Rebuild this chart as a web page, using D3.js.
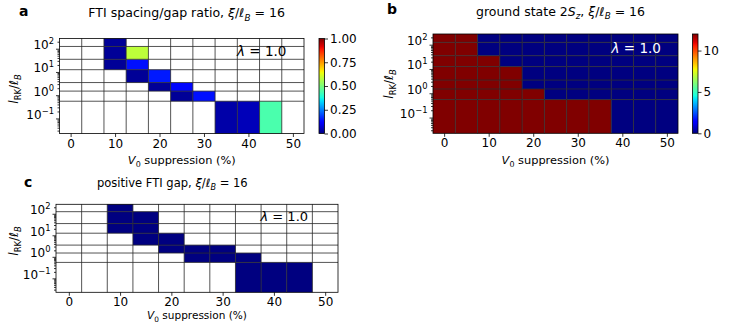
<!DOCTYPE html>
<html>
<head>
<meta charset="utf-8">
<script src="https://cdn.jsdelivr.net/npm/d3@7"></script>
<style>
body { margin: 0; background: #fff; }
svg { font-family: "DejaVu Sans", sans-serif; }
</style>
</head>
<body>
<div id="chart-area"></div>
<script>

// Grid centres (x: V0 suppression in %, y: l_RK / l_B)
var v0Values = [0, 5, 10, 15, 20, 25, 30, 35, 40, 45, 50];
var lrkValues = [0.1, 1, 2, 5, 20, 50, 200];

// Tick labels
var xTicks = [0, 10, 20, 30, 40, 50];
var yTicks = [0.1, 1, 10, 100];
var ratioTicks = [0, 0.25, 0.5, 0.75, 1];
var spinTicks = [0, 5, 10];

var _ = null;

// rows follow lrkValues (bottom row first), columns follow v0Values
var ratio = [
	[_, _, _, _, _, _, _, 0.035, 0.05, 0.44, _],
	[_, _, _, _, _, 0.02, 0.14, _, _, _, _],
	[_, _, _, _, 0.02, 0.13, _, _, _, _, _],
	[_, _, _, 0.02, 0.15, _, _, _, _, _, _],
	[_, _, 0.02, 0.14, _, _, _, _, _, _, _],
	[_, _, 0.02, 0.58, _, _, _, _, _, _, _],
	[_, _, 0.02, _, _, _, _, _, _, _, _]
];

var spin = [
	[12, 12, 12, 12, 12, 12, 12, 12, 0, 0, 0],
	[12, 12, 12, 12, 12, 0, 0, 0, 0, 0, 0],
	[12, 12, 12, 12, 0, 0, 0, 0, 0, 0, 0],
	[12, 12, 12, 12, 0, 0, 0, 0, 0, 0, 0],
	[12, 12, 12, 0, 0, 0, 0, 0, 0, 0, 0],
	[12, 12, 0, 0, 0, 0, 0, 0, 0, 0, 0],
	[12, 12, 0, 0, 0, 0, 0, 0, 0, 0, 0]
];

var gapPositive = [
	[_, _, _, _, _, _, _, 1, 1, 1, _],
	[_, _, _, _, _, 1, 1, 1, _, _, _],
	[_, _, _, _, 1, 1, 1, _, _, _, _],
	[_, _, _, 1, 1, _, _, _, _, _, _],
	[_, _, 1, 1, _, _, _, _, _, _, _],
	[_, _, 1, 1, _, _, _, _, _, _, _],
	[_, _, 1, _, _, _, _, _, _, _, _]
];


// matplotlib "jet"
var jetR = d3.scaleLinear().domain([0, 0.35, 0.66, 0.89, 1]).range([0, 0, 1, 1, 0.5]).clamp(true);
var jetG = d3.scaleLinear().domain([0, 0.125, 0.375, 0.64, 0.91, 1]).range([0, 0, 1, 1, 0, 0]).clamp(true);
var jetB = d3.scaleLinear().domain([0, 0.11, 0.34, 0.65, 1]).range([0.5, 1, 1, 0, 0]).clamp(true);
function jet(t) {
	return d3.rgb(255 * jetR(t), 255 * jetG(t), 255 * jetB(t)).formatHex();
}

// cell edges like pcolormesh (midpoints between centres)
function edges(c) {
	var e = [c[0] - (c[1] - c[0]) / 2];
	for (var i = 0; i < c.length - 1; i++) e.push((c[i] + c[i + 1]) / 2);
	e.push(c[c.length - 1] + (c[c.length - 1] - c[c.length - 2]) / 2);
	return e;
}
var xEdges = edges(v0Values);
var yEdges = edges(lrkValues);
var yDomain = [0.0225, yEdges[yEdges.length - 1]];

var svg = d3.select("#chart-area").append("svg")
	.attr("width", 747)
	.attr("height", 331);

// text with italic / sub / superscript parts
function mathText(text, parts, size) {
	var shift = 0;
	text.selectAll("tspan").remove();
	text.attr("font-size", size);
	parts.forEach(function(p) {
		var target = p.sub ? size * 0.28 : (p.sup ? -size * 0.42 : 0);
		var ts = text.append("tspan").text(p.t)
			.attr("dy", target - shift);
		if (p.i) ts.attr("font-style", "italic");
		if (p.sub || p.sup) ts.attr("font-size", size * 0.7);
		shift = target;
	});
}

// same, but scaled so the text spans a given width
function fitText(text, parts, width) {
	mathText(text, parts, 12);
	var len = text.node().getComputedTextLength();
	mathText(text, parts, 12 * width / len);
}

function powerLabel(v) {
	var k = Math.round(Math.log10(v));
	return [{t: "10"}, {t: (k < 0 ? "\u2212" + (-k) : "" + k), sup: true}];
}

var xLabelParts = [{t: "V", i: true}, {t: "0", sub: true}, {t: " suppression (%)"}];
var yLabelParts = [{t: "l", i: true}, {t: "RK", sub: true}, {t: "/"}, {t: "\u2113", i: true}, {t: "B", i: true, sub: true}];
var xiParts = [{t: "\u03be", i: true}, {t: "/"}, {t: "\u2113", i: true}, {t: "B", i: true, sub: true}, {t: " = 16"}];

function drawPanel(o) {
	var b = o.box;
	var x = d3.scaleLinear().domain([xEdges[0], xEdges[xEdges.length - 1]]).range([b.left, b.right]);
	var y = d3.scaleLog().domain(yDomain).range([b.bottom, b.top]);
	var yEdge = function(i) { return y(Math.max(yEdges[i], yDomain[0])); };

	var g = svg.append("g");

	var cells = [];
	o.data.forEach(function(row, i) {
		row.forEach(function(v, j) {
			if (v !== null) cells.push({i: i, j: j, v: v});
		});
	});

	g.selectAll("rect.cell")
		.data(cells)
		.enter().append("rect")
		.attr("class", "cell")
		.attr("x", function(d) { return x(xEdges[d.j]); })
		.attr("width", function(d) { return x(xEdges[d.j + 1]) - x(xEdges[d.j]); })
		.attr("y", function(d) { return yEdge(d.i + 1); })
		.attr("height", function(d) { return yEdge(d.i) - yEdge(d.i + 1); })
		.attr("fill", function(d) { return o.color(d.v); });

	// mesh edges
	g.selectAll("line.vgrid")
		.data(xEdges.slice(1, -1))
		.enter().append("line")
		.attr("x1", function(d) { return x(d); })
		.attr("x2", function(d) { return x(d); })
		.attr("y1", b.top).attr("y2", b.bottom)
		.attr("stroke", "#2a2a2a").attr("stroke-width", 0.8);
	g.selectAll("line.hgrid")
		.data(yEdges.slice(1, -1))
		.enter().append("line")
		.attr("y1", function(d) { return y(d); })
		.attr("y2", function(d) { return y(d); })
		.attr("x1", b.left).attr("x2", b.right)
		.attr("stroke", "#2a2a2a").attr("stroke-width", 0.8);

	g.append("rect")
		.attr("x", b.left).attr("y", b.top)
		.attr("width", b.right - b.left).attr("height", b.bottom - b.top)
		.attr("fill", "none").attr("stroke", "#000").attr("stroke-width", 0.8);

	// axes
	var xAxis = d3.axisBottom(x).tickValues(xTicks).tickSize(3.5).tickPadding(2).tickFormat(d3.format("d"));
	var gx = g.append("g")
		.attr("transform", "translate(0," + b.bottom + ")")
		.call(xAxis);

	var minor = y.ticks().filter(function(t) { return yTicks.indexOf(t) < 0; });
	var gm = g.append("g")
		.attr("transform", "translate(" + b.left + ",0)")
		.call(d3.axisLeft(y).tickValues(minor).tickSize(2).tickFormat(""));

	var gy = g.append("g")
		.attr("transform", "translate(" + b.left + ",0)")
		.call(d3.axisLeft(y).tickValues(yTicks).tickSize(3.5).tickPadding(2));
	gy.selectAll(".tick text").each(function(d) {
		var t = d3.select(this).text("");
		mathText(t, powerLabel(d), 12);
	});

	[gx, gm, gy].forEach(function(a) {
		a.select(".domain").remove();
		a.selectAll("line").attr("stroke", "#000").attr("stroke-width", 0.8);
		a.selectAll("text").attr("font-family", "DejaVu Sans").attr("fill", "#000");
	});
	gx.selectAll("text").attr("font-size", 12);

	// labels
	var xl = g.append("text")
		.attr("x", (b.left + b.right) / 2).attr("y", o.xLabel.y)
		.attr("text-anchor", "middle");
	fitText(xl, xLabelParts, o.xLabel.w);

	var yl = g.append("text")
		.attr("transform", "translate(" + o.yLabel.x + "," + o.yLabel.y + ") rotate(-90)")
		.attr("text-anchor", "middle");
	mathText(yl, yLabelParts, 12);

	var tl = g.append("text")
		.attr("x", o.titlePos.x).attr("y", o.titlePos.y)
		.attr("text-anchor", "middle");
	fitText(tl, o.title, o.titlePos.w);

	g.append("text")
		.attr("x", o.letter.x).attr("y", o.letter.y)
		.attr("font-size", 14).attr("font-weight", "bold")
		.text(o.letter.t);

	var lam = g.append("text")
		.attr("x", o.lambda.x).attr("y", o.lambda.y)
		.attr("fill", o.lambda.fill);
	mathText(lam, [{t: "\u03bb", i: true}, {t: " = 1.0"}], o.lambda.size);
}

function drawColorbar(box, vmax, ticks, fmt, id) {
	var grad = svg.append("defs").append("linearGradient")
		.attr("id", id).attr("x1", 0).attr("y1", 1).attr("x2", 0).attr("y2", 0);
	d3.range(0, 1.0001, 0.02).forEach(function(t) {
		grad.append("stop").attr("offset", t).attr("stop-color", jet(t));
	});
	svg.append("rect")
		.attr("x", box.left).attr("y", box.top)
		.attr("width", box.right - box.left).attr("height", box.bottom - box.top)
		.attr("fill", "url(#" + id + ")")
		.attr("stroke", "#000").attr("stroke-width", 0.8);
	var c = d3.scaleLinear().domain([0, vmax]).range([box.bottom, box.top]);
	var ga = svg.append("g")
		.attr("transform", "translate(" + box.right + ",0)")
		.call(d3.axisRight(c).tickValues(ticks).tickSize(3.5).tickPadding(2).tickFormat(fmt));
	ga.select(".domain").remove();
	ga.selectAll("line").attr("stroke", "#000").attr("stroke-width", 0.8);
	ga.selectAll("text").attr("font-size", 12).attr("font-family", "DejaVu Sans").attr("fill", "#000");
}

drawPanel({
	box: {left: 59.5, right: 304, top: 38.5, bottom: 133.5},
	data: ratio,
	color: function(v) { return jet(v); },
	title: [{t: "FTI spacing/gap ratio, "}].concat(xiParts),
	titlePos: {x: 186.7, y: 17, w: 197},
	xLabel: {y: 164, w: 108},
	yLabel: {x: 18, y: 89},
	letter: {t: "a", x: 19, y: 16},
	lambda: {x: 237, y: 56, size: 13.5, fill: "#000"}
});
drawColorbar({left: 319, right: 324.5, top: 38.5, bottom: 133.5}, 1, ratioTicks, d3.format(".2f"), "jetA");

drawPanel({
	box: {left: 433, right: 678, top: 34, bottom: 133.3},
	data: spin,
	color: function(v) { return jet(v / 12); },
	title: [{t: "ground state 2"}, {t: "S", i: true}, {t: "z", i: true, sub: true}, {t: ", "}].concat(xiParts),
	titlePos: {x: 560.5, y: 15.7, w: 169},
	xLabel: {y: 164, w: 108},
	yLabel: {x: 393, y: 84},
	letter: {t: "b", x: 387, y: 13.5},
	lambda: {x: 611.5, y: 53, size: 13.5, fill: "#fff"}
});
drawColorbar({left: 692.5, right: 698, top: 34, bottom: 133.3}, 12, spinTicks, d3.format("d"), "jetB");

drawPanel({
	box: {left: 56, right: 338, top: 204.3, bottom: 292.3},
	data: gapPositive,
	color: function(v) { return jet(0); },
	title: [{t: "positive FTI gap, "}].concat(xiParts),
	titlePos: {x: 172.3, y: 187, w: 151},
	xLabel: {y: 319, w: 100},
	yLabel: {x: 18, y: 241},
	letter: {t: "c", x: 24, y: 187},
	lambda: {x: 260.5, y: 221, size: 13, fill: "#000"}
});

</script>
</body>
</html>
